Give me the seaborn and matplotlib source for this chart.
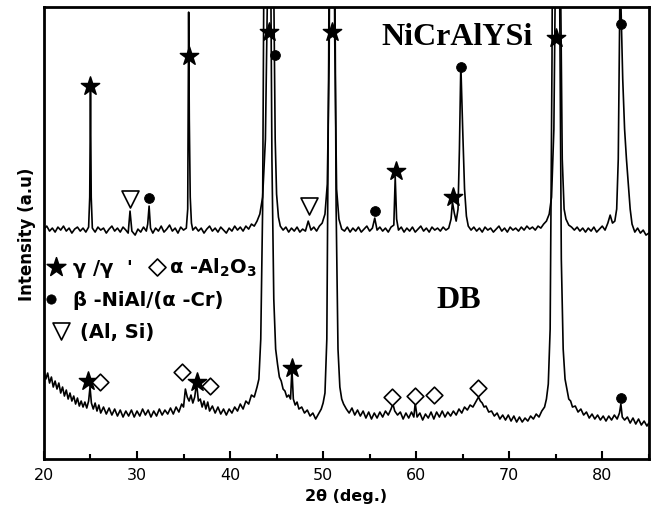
import matplotlib
matplotlib.use("Agg")
import matplotlib.pyplot as plt
from matplotlib.ticker import MultipleLocator
import seaborn as sns

# ---------------- data ----------------
top_x = [20.0, 20.3, 20.6, 20.9, 21.2, 21.5, 21.8, 22.1, 22.4, 22.7,
         23.0, 23.3, 23.6, 23.9, 24.2, 24.5, 24.8, 24.92, 25.0, 25.08,
         25.2, 25.5, 25.8, 26.1, 26.4, 26.7, 27.0, 27.3, 27.6, 27.9,
         28.2, 28.5, 28.8, 29.05, 29.25, 29.45, 29.8, 30.1, 30.4, 30.7,
         31.0, 31.15, 31.3, 31.45, 31.7, 32.0, 32.3, 32.6, 32.9, 33.2,
         33.5, 33.8, 34.1, 34.4, 34.7, 35.0, 35.3, 35.45, 35.55, 35.62,
         35.72, 35.85, 36.0, 36.3, 36.6, 36.9, 37.2, 37.5, 37.8, 38.1,
         38.4, 38.7, 39.0, 39.3, 39.6, 39.9, 40.2, 40.5, 40.8, 41.1,
         41.4, 41.7, 42.0, 42.3, 42.6, 42.9, 43.2, 43.5, 43.8, 44.1,
         44.4, 44.65, 44.85, 45.0, 45.2, 45.4, 45.7, 46.0, 46.3, 46.6,
         46.9, 47.2, 47.5, 47.8, 48.1, 48.4, 48.7, 49.0, 49.3, 49.6,
         49.9, 50.2, 50.45, 50.65, 50.85, 51.05, 51.25, 51.45, 51.7, 52.0,
         52.3, 52.6, 52.9, 53.2, 53.5, 53.8, 54.1, 54.4, 54.7, 55.0,
         55.3, 55.55, 55.8, 56.1, 56.4, 56.7, 57.0, 57.3, 57.6, 57.75,
         57.9, 58.1, 58.4, 58.7, 59.0, 59.3, 59.6, 59.9, 60.2, 60.5,
         60.8, 61.1, 61.4, 61.7, 62.0, 62.3, 62.6, 62.9, 63.2, 63.5,
         63.75, 63.9, 64.1, 64.3, 64.5, 64.65, 64.8, 65.0, 65.2, 65.4,
         65.6, 65.9, 66.2, 66.5, 66.8, 67.1, 67.4, 67.7, 68.0, 68.3,
         68.6, 68.9, 69.2, 69.5, 69.8, 70.1, 70.4, 70.7, 71.0, 71.3,
         71.6, 71.9, 72.2, 72.5, 72.8, 73.1, 73.4, 73.7, 74.0, 74.3,
         74.55, 74.8, 75.0, 75.2, 75.4, 75.55, 75.7, 75.9, 76.1, 76.4,
         76.7, 77.0, 77.3, 77.6, 77.9, 78.2, 78.5, 78.8, 79.1, 79.4,
         79.7, 80.0, 80.3, 80.6, 80.85, 81.1, 81.35, 81.55, 81.72, 81.88,
         82.02, 82.2, 82.4, 82.6, 82.8, 83.0, 83.2, 83.5, 83.8, 84.1,
         84.4, 84.7, 85.0]
top_y = [230, 233, 228, 231, 227, 232, 229, 233, 228, 231,
         226, 230, 232, 228, 231, 227, 232, 262, 368, 262,
         231, 227, 232, 229, 231, 226, 230, 233, 228, 231,
         227, 232, 229, 226, 248, 228, 224, 230, 227, 232,
         228, 235, 253, 231, 226, 231, 228, 233, 227, 230,
         234, 228, 231, 226, 232, 229, 231, 250, 447, 340,
         262, 236, 229, 232, 228, 231, 226, 230, 233, 228,
         231, 227, 232, 229, 226, 231, 228, 233, 229, 232,
         228, 233, 230, 235, 233, 238, 245, 262, 320, 520,
         800, 520, 320, 265, 242, 233, 229, 232, 227, 231,
         228, 232, 227, 230, 228, 238, 229, 232, 228, 233,
         236, 245, 275, 400, 800, 800, 420, 270, 240, 230,
         228, 232, 227, 231, 228, 232, 227, 230, 233, 228,
         231, 241, 229, 232, 228, 231, 227, 232, 234, 282,
         240, 229, 232, 227, 231, 228, 232, 227, 230, 233,
         228, 231, 227, 232, 229, 231, 228, 232, 229, 231,
         240, 257, 246, 238, 250, 310, 395, 330, 270, 243,
         233, 229, 232, 228, 231, 227, 232, 229, 231, 227,
         230, 233, 228, 231, 227, 232, 229, 231, 228, 232,
         229, 233, 230, 232, 229, 233, 231, 235, 238, 245,
         262, 330, 520, 800, 800, 450, 300, 250, 240, 234,
         232, 229, 232, 228, 231, 227, 231, 228, 232, 227,
         230, 233, 229, 236, 244, 236, 238, 250, 300, 450,
         450, 380, 330, 300, 275, 250, 235, 227, 231, 226,
         229, 224, 226]

db_x = [20.0, 20.2, 20.4, 20.6, 20.8, 21.0, 21.2, 21.4, 21.6, 21.8,
        22.0, 22.2, 22.4, 22.6, 22.8, 23.0, 23.2, 23.4, 23.6, 23.8,
        24.0, 24.2, 24.4, 24.6, 24.8, 24.95, 25.1, 25.3, 25.5, 25.7,
        25.9, 26.1, 26.4, 26.7, 27.0, 27.3, 27.6, 27.9, 28.2, 28.5,
        28.8, 29.1, 29.4, 29.7, 30.0, 30.3, 30.6, 30.9, 31.2, 31.5,
        31.8, 32.1, 32.4, 32.7, 33.0, 33.3, 33.6, 33.9, 34.2, 34.5,
        34.8, 35.0, 35.2, 35.4, 35.6, 35.8, 36.0, 36.2, 36.4, 36.6,
        36.8, 37.0, 37.2, 37.4, 37.6, 37.8, 38.1, 38.4, 38.7, 39.0,
        39.3, 39.6, 39.9, 40.2, 40.5, 40.8, 41.1, 41.4, 41.7, 42.0,
        42.3, 42.6, 42.9, 43.1, 43.3, 43.5, 43.7, 44.0, 44.3, 44.5,
        44.7, 44.9, 45.1, 45.3, 45.5, 45.7, 45.9, 46.1, 46.3, 46.5,
        46.65, 46.8, 47.0, 47.2, 47.4, 47.7, 48.0, 48.3, 48.6, 48.9,
        49.2, 49.5, 49.8, 50.0, 50.2, 50.4, 50.6, 50.8, 51.0, 51.2,
        51.4, 51.6, 51.8, 52.0, 52.2, 52.5, 52.8, 53.1, 53.4, 53.7,
        54.0, 54.3, 54.6, 54.9, 55.2, 55.5, 55.8, 56.1, 56.4, 56.7,
        57.0, 57.3, 57.5, 57.7, 58.0, 58.3, 58.6, 58.9, 59.2, 59.5,
        59.75, 59.9, 60.1, 60.4, 60.7, 61.0, 61.3, 61.6, 61.9, 62.2,
        62.5, 62.8, 63.1, 63.4, 63.7, 64.0, 64.3, 64.6, 64.9, 65.2,
        65.5, 65.8, 66.1, 66.4, 66.7, 66.9, 67.1, 67.3, 67.5, 67.8,
        68.1, 68.4, 68.7, 69.0, 69.3, 69.6, 69.9, 70.2, 70.5, 70.8,
        71.1, 71.4, 71.7, 72.0, 72.3, 72.6, 72.9, 73.2, 73.5, 73.8,
        74.0, 74.2, 74.4, 74.6, 74.8, 75.1, 75.4, 75.6, 75.8, 76.0,
        76.2, 76.4, 76.6, 76.8, 77.1, 77.4, 77.7, 78.0, 78.3, 78.6,
        78.9, 79.2, 79.5, 79.8, 80.1, 80.4, 80.7, 81.0, 81.3, 81.6,
        81.85, 82.0, 82.15, 82.4, 82.7, 83.0, 83.3, 83.6, 83.9, 84.2,
        84.5, 84.8, 85.0]
db_y = [88, 80, 86, 76, 82, 72, 78, 70, 76, 66,
        72, 63, 69, 60, 66, 58, 63, 55, 61, 53,
        58, 52, 57, 51, 58, 72, 56, 50, 56, 48,
        54, 46, 52, 45, 51, 44, 50, 43, 49, 42,
        48, 43, 49, 42, 48, 43, 50, 44, 49, 42,
        48, 43, 50, 44, 49, 45, 51, 45, 52, 47,
        55, 52, 70, 62, 58, 64, 56, 62, 76, 58,
        60, 52, 58, 50, 57, 48, 53, 46, 52, 45,
        50, 44, 50, 46, 52, 48, 55, 50, 58, 55,
        64, 62, 72, 80, 120, 250, 600, 900, 600, 300,
        160, 110, 95, 82, 78, 70, 68, 62, 64, 60,
        90, 60, 54, 57, 50, 52, 46, 49, 43, 46,
        40, 45, 50, 56, 66, 120, 400, 900, 900, 600,
        250, 110, 72, 60, 55, 50, 46, 51, 44, 49,
        43, 48, 41, 47, 40, 46, 41, 47, 42, 48,
        44, 50, 55, 48, 44, 47, 40, 46, 41, 47,
        42, 56, 42, 46, 39, 45, 41, 47, 40, 47,
        42, 48, 42, 47, 43, 48, 44, 50, 46, 52,
        49, 54, 52, 57, 62, 58, 56, 52, 53, 47,
        48, 43, 46, 40, 44, 39, 44, 38, 43, 37,
        42, 37, 41, 38, 43, 40, 45, 42, 48, 52,
        60, 75, 130, 400, 900, 900, 500, 200, 110, 80,
        70, 60, 58, 52, 53, 47, 50, 44, 47, 41,
        45, 40, 44, 39, 43, 38, 43, 39, 44, 40,
        46, 55, 42, 39, 42, 36, 41, 35, 40, 34,
        38, 33, 36]

# phase markers on peaks
top_star_x = [25.0, 35.6, 44.2, 51.0, 57.8, 64.0, 75.0]
top_star_y = [373, 403, 427, 427, 288, 262, 421]
top_dot_x = [31.3, 44.8, 55.6, 64.8, 82.0]
top_dot_y = [261, 404, 248, 392, 435]
top_tri_x = [29.2, 48.5]
top_tri_y = [260, 253]
db_star_x = [24.7, 36.4, 46.7]
db_star_y = [78, 77, 91]
db_dia_x = [26.0, 34.8, 37.8, 57.4, 59.9, 61.9, 66.6]
db_dia_y = [77, 87, 73, 62, 63, 64, 71]
db_dot_x = [82.0]
db_dot_y = [61]

x_ticks = [20, 30, 40, 50, 60, 70, 80]
sample_labels = ["NiCrAlYSi", "DB"]
phase_labels = ["γ /γ  '", r"α -Al$_2$O$_3$", "β -NiAl/(α -Cr)", "(Al, Si)"]

# ---------------- style ----------------
sns.set_theme(style="ticks")
plt.rcParams['font.family'] = ['DejaVu Sans']
plt.rcParams['text.color'] = 'black'
plt.rcParams['axes.labelcolor'] = 'black'
plt.rcParams['xtick.color'] = 'black'
plt.rcParams['mathtext.fontset'] = 'custom'
plt.rcParams['mathtext.rm'] = 'DejaVu Sans:bold'
plt.rcParams['mathtext.it'] = 'DejaVu Sans:bold'
plt.rcParams['mathtext.bf'] = 'DejaVu Sans:bold'

fig = plt.figure(figsize=(6.56, 5.10), dpi=100)
ax = fig.add_axes([0.067, 0.098, 0.922, 0.886])

sns.lineplot(x=top_x, y=top_y, ax=ax, color='black', lw=1.2,
             estimator=None, sort=False)
sns.lineplot(x=db_x, y=db_y, ax=ax, color='black', lw=1.2,
             estimator=None, sort=False)

filled = dict(color='black', edgecolor='black', legend=False, ax=ax, zorder=4)
opened = dict(color='white', edgecolor='black', linewidth=1.2, legend=False, ax=ax, zorder=4)
sns.scatterplot(x=top_star_x, y=top_star_y, marker='*', s=190, **filled)
sns.scatterplot(x=top_dot_x, y=top_dot_y, marker='o', s=50, **filled)
sns.scatterplot(x=top_tri_x, y=top_tri_y, marker='v', s=150, **opened)
sns.scatterplot(x=db_star_x, y=db_star_y, marker='*', s=190, **filled)
sns.scatterplot(x=db_dia_x, y=db_dia_y, marker='D', s=72, **opened)
sns.scatterplot(x=db_dot_x, y=db_dot_y, marker='o', s=50, **filled)

# legend drawn inside the axes
sns.scatterplot(x=[21.3], y=[192], marker='*', s=200, **filled)
sns.scatterplot(x=[32.1], y=[192], marker='D', s=75, **opened)
sns.scatterplot(x=[20.75], y=[160], marker='o', s=45, **filled)
sns.scatterplot(x=[21.8], y=[128], marker='v', s=150, **opened)
lkw = dict(fontsize=14, fontweight='bold', va='center', ha='left')
ax.text(23.1, 192, phase_labels[0], **lkw)
ax.text(33.4, 192, phase_labels[1], **lkw)
ax.text(23.1, 160, phase_labels[2], **lkw)
ax.text(23.9, 128, phase_labels[3], **lkw)

ax.text(64.4, 423, sample_labels[0], fontsize=23, fontweight='bold',
        family='Liberation Serif', ha='center', va='center')
ax.text(64.6, 160, sample_labels[1], fontsize=23, fontweight='bold',
        family='Liberation Serif', ha='center', va='center')

ax.set_xlim(20, 85)
ax.set_ylim(0, 452)
ax.set_xticks(x_ticks)
ax.xaxis.set_minor_locator(MultipleLocator(5))
ax.set_yticks([])
ax.tick_params(axis='x', which='major', direction='in', length=6, width=1.5,
               labelsize=11.5, pad=6, colors='black')
ax.tick_params(axis='x', which='minor', direction='in', length=3.5, width=1.5,
               colors='black')
for sp in ax.spines.values():
    sp.set_linewidth(2)
    sp.set_color('black')
ax.set_xlabel("2θ (deg.)", fontsize=11.5, fontweight='bold', labelpad=4,
              color='black')
ax.set_ylabel("Intensity (a.u)", fontsize=12, fontweight='bold', labelpad=6,
              color='black')

fig.savefig("out.png", dpi=100)
